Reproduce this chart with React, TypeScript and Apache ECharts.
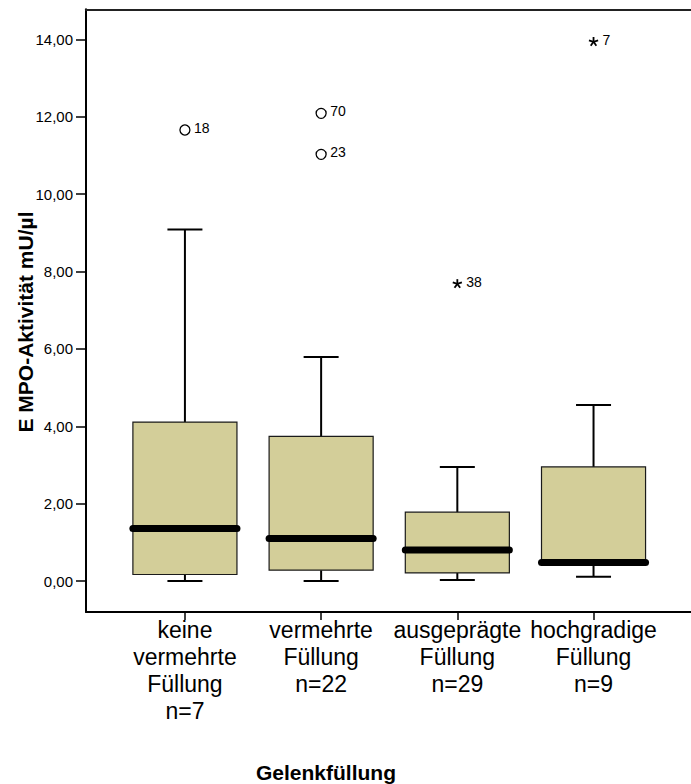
import { useEffect, useRef } from 'react';
import * as echarts from 'echarts';

// Gelenkfüllung groups (x positions 1..4)
const groupLabels = ['keine\nvermehrte\nFüllung', 'vermehrte\nFüllung', 'ausgeprägte\nFüllung', 'hochgradige\nFüllung'];
const groupSizes = [7, 22, 29, 9];

// Box plot statistics of E MPO-Aktivität (mU/µl)
const whiskerLow = [0.0, 0.0, 0.03, 0.11];
const quartile1 = [0.17, 0.28, 0.21, 0.46];
const medianValue = [1.36, 1.1, 0.8, 0.48];
const quartile3 = [4.11, 3.74, 1.78, 2.95];
const whiskerHigh = [9.09, 5.79, 2.95, 4.55];

// Outliers (circle) and extreme values (star) with case numbers
const outlierGroup = [1, 2, 2, 3, 4];
const outlierValue = [11.66, 12.09, 11.03, 7.68, 13.94];
const outlierCase = ['18', '70', '23', '38', '7'];
const outlierExtreme = [false, false, false, true, true];

const yTicks = [0, 2, 4, 6, 8, 10, 12, 14];
const xTicks = [1, 2, 3, 4];

const FONT = '"Liberation Sans", Arial, Helvetica, sans-serif';
const BOX_FILL = '#d3ce99';
const BOX_WIDTH = 0.764; // in x-axis units
const CAP_WIDTH = 0.257;
// the plot area runs on past the right edge of the page
const X_MIN = 0.2737;
const X_MAX = 5.046;

export default function App() {
  const ref = useRef<HTMLDivElement>(null);

  useEffect(() => {
    document.body.style.margin = '0';
    document.body.style.overflow = 'hidden';
    if (!ref.current) return;
    const chart = echarts.init(ref.current, undefined, { renderer: 'svg' });

    const boxData = xTicks.map((x, i) => [
      x,
      whiskerLow[i],
      quartile1[i],
      medianValue[i],
      quartile3[i],
      whiskerHigh[i],
    ]);
    const outlierData = outlierGroup.map((g, i) => [g, outlierValue[i]]);

    const option: any = {
      animation: false,
      backgroundColor: '#ffffff',
      grid: {
        left: 86,
        top: 9.3,
        width: 650,
        height: 602.7,
        outerBoundsMode: 'none',
        containLabel: false,
        show: false,
      },
      xAxis: [
        {
          type: 'value',
          min: X_MIN,
          max: X_MAX,
          splitLine: { show: false },
          axisLine: { show: true, onZero: false, lineStyle: { color: '#000', width: 2 } },
          axisTick: {
            show: true,
            customValues: xTicks,
            length: 8,
            lineStyle: { color: '#000', width: 1.5 },
          },
          axisLabel: {
            customValues: xTicks,
            formatter: (v: number) => {
              const i = Math.round(v) - 1;
              return groupLabels[i] + '\nn=' + groupSizes[i];
            },
            color: '#000',
            fontFamily: FONT,
            fontSize: 23,
            lineHeight: 27,
            margin: 4,
            align: 'center',
            hideOverlap: false,
          },
        },
        {
          // upper frame line of the plot area
          type: 'value',
          position: 'top',
          min: X_MIN,
          max: X_MAX,
          splitLine: { show: false },
          axisLine: { show: true, onZero: false, lineStyle: { color: '#222', width: 2 } },
          axisTick: { show: false },
          axisLabel: { show: false },
        },
      ],
      yAxis: {
        type: 'value',
        min: -0.8,
        max: 14.78,
        splitLine: { show: false },
        axisLine: { show: true, onZero: false, lineStyle: { color: '#000', width: 2 } },
        axisTick: {
          show: true,
          customValues: yTicks,
          length: 10,
          lineStyle: { color: '#000', width: 1.5 },
        },
        axisLabel: {
          customValues: yTicks,
          formatter: (v: number) => v.toFixed(2).replace('.', ','),
          color: '#000',
          fontFamily: FONT,
          fontSize: 15,
          margin: 13,
        },
      },
      series: [
        {
          type: 'custom',
          data: boxData,
          encode: { x: 0, y: [1, 2, 3, 4, 5] },
          renderItem: (params: any, api: any) => {
            const x = api.value(0);
            const lo = api.coord([x, api.value(1)]);
            const q1 = api.coord([x, api.value(2)]);
            const md = api.coord([x, api.value(3)]);
            const q3 = api.coord([x, api.value(4)]);
            const hi = api.coord([x, api.value(5)]);
            const halfBox = api.size([BOX_WIDTH, 0])[0] / 2;
            const halfCap = api.size([CAP_WIDTH, 0])[0] / 2;
            const cx = lo[0];
            const whisker = { stroke: '#000', lineWidth: 2 };
            return {
              type: 'group',
              children: [
                { type: 'line', shape: { x1: cx, y1: q1[1], x2: cx, y2: lo[1] }, style: whisker },
                { type: 'line', shape: { x1: cx - halfCap, y1: lo[1], x2: cx + halfCap, y2: lo[1] }, style: whisker },
                { type: 'line', shape: { x1: cx, y1: q3[1], x2: cx, y2: hi[1] }, style: whisker },
                { type: 'line', shape: { x1: cx - halfCap, y1: hi[1], x2: cx + halfCap, y2: hi[1] }, style: whisker },
                {
                  type: 'rect',
                  shape: { x: cx - halfBox, y: q3[1], width: halfBox * 2, height: q1[1] - q3[1] },
                  style: { fill: BOX_FILL, stroke: '#1a1a1a', lineWidth: 1.2 },
                },
                {
                  type: 'line',
                  shape: { x1: cx - halfBox, y1: md[1], x2: cx + halfBox, y2: md[1] },
                  style: { stroke: '#000', lineWidth: 7, lineCap: 'round' },
                },
              ],
            };
          },
          z: 2,
        },
        {
          type: 'custom',
          data: outlierData,
          encode: { x: 0, y: 1 },
          renderItem: (params: any, api: any) => {
            const p = api.coord([api.value(0), api.value(1)]);
            const i = params.dataIndex;
            let marker: any;
            if (outlierExtreme[i]) {
              const spokes = [0, 1, 2, 3, 4].map((k) => {
                const a = -Math.PI / 2 + (k * 2 * Math.PI) / 5;
                return {
                  type: 'line',
                  shape: { x1: p[0], y1: p[1], x2: p[0] + 4.8 * Math.cos(a), y2: p[1] + 4.8 * Math.sin(a) },
                  style: { stroke: '#000', lineWidth: 1.8 },
                };
              });
              marker = { type: 'group', children: spokes };
            } else {
              marker = {
                type: 'circle',
                shape: { cx: p[0], cy: p[1], r: 5 },
                style: { fill: 'none', stroke: '#000', lineWidth: 1.3 },
              };
            }
            return {
              type: 'group',
              children: [
                marker,
                {
                  type: 'text',
                  x: p[0] + 9,
                  y: p[1] - 2,
                  style: {
                    text: outlierCase[i],
                    fill: '#000',
                    font: '14px ' + FONT,
                    align: 'left',
                    verticalAlign: 'middle',
                  },
                },
              ],
            };
          },
          z: 3,
        },
      ],
      graphic: [
        {
          type: 'text',
          x: 25,
          y: 322,
          rotation: Math.PI / 2,
          style: {
            text: 'E MPO-Aktivität mU/µl',
            fill: '#000',
            font: 'bold 21px ' + FONT,
            align: 'center',
            verticalAlign: 'middle',
          },
        },
        {
          type: 'text',
          x: 326,
          y: 772,
          style: {
            text: 'Gelenkfüllung',
            fill: '#000',
            font: 'bold 21px ' + FONT,
            align: 'center',
            verticalAlign: 'middle',
          },
        },
      ],
    };

    chart.setOption(option);
    return () => chart.dispose();
  }, []);

  return <div ref={ref} style={{ width: 691, height: 784, overflow: 'hidden' }} />;
}
